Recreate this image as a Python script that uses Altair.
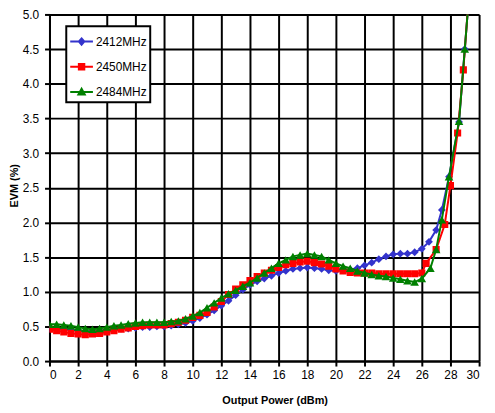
import altair as alt
import pandas as pd

SERIES = ["2412MHz", "2450MHz", "2484MHz"]
COLORS = ["#3333CC", "#FF0000", "#008000"]
SHAPES = ["diamond", "square", "triangle-up"]
SIZES = [62, 52, 76]

BLUE_X = [0, 0.5, 1, 1.5, 2, 2.5, 3, 3.5, 4, 4.5, 5, 5.5, 6, 6.5, 7, 7.5, 8, 8.5, 9, 9.5,
          10, 10.5, 11, 11.5, 12, 12.5, 13, 13.5, 14, 14.5, 15, 15.5, 16, 16.5, 17, 17.5,
          18, 18.5, 19, 19.5, 20, 20.5, 21, 21.5, 22, 22.5, 23, 23.5, 24, 24.5, 25, 25.5,
          26, 26.5, 27, 27.4, 27.9, 28.6, 29.0, 29.5]
BLUE_Y = [0.47, 0.47, 0.46, 0.45, 0.44, 0.43, 0.43, 0.44, 0.45, 0.46, 0.47, 0.47, 0.48, 0.49,
          0.49, 0.50, 0.50, 0.51, 0.53, 0.55, 0.58, 0.62, 0.67, 0.73, 0.80, 0.87, 0.95, 1.03,
          1.10, 1.15, 1.19, 1.23, 1.27, 1.30, 1.33, 1.34, 1.35, 1.34, 1.33, 1.31, 1.30, 1.31,
          1.32, 1.34, 1.38, 1.42, 1.47, 1.51, 1.54, 1.55, 1.55, 1.57, 1.62, 1.72, 1.89, 2.18,
          2.66, 3.45, 4.50, 5.80]

RED_X = [0, 0.5, 1, 1.5, 2, 2.5, 3, 3.5, 4, 4.5, 5, 5.5, 6, 6.5, 7, 7.5, 8, 8.5, 9, 9.5,
         10, 10.5, 11, 11.5, 12, 12.5, 13, 13.5, 14, 14.5, 15, 15.5, 16, 16.5, 17, 17.5,
         18, 18.5, 19, 19.5, 20, 20.5, 21, 21.5, 22, 22.5, 23, 23.5, 24, 24.5, 25, 25.5,
         26, 26.3, 27.0, 27.6, 28.0, 28.5, 28.9, 29.4]
RED_Y = [0.46, 0.44, 0.42, 0.40, 0.39, 0.38, 0.39, 0.40, 0.42, 0.44, 0.46, 0.48, 0.50, 0.51,
         0.52, 0.52, 0.52, 0.54, 0.56, 0.59, 0.63, 0.66, 0.70, 0.78, 0.86, 0.96, 1.04, 1.10,
         1.16, 1.22, 1.27, 1.31, 1.35, 1.39, 1.41, 1.43, 1.44, 1.42, 1.40, 1.37, 1.33, 1.30,
         1.28, 1.27, 1.27, 1.27, 1.26, 1.26, 1.26, 1.26, 1.26, 1.26, 1.27, 1.41, 1.61, 1.97,
         2.53, 3.29, 4.20, 5.60]

GREEN_X = [0, 0.5, 1, 1.5, 2, 2.5, 3, 3.5, 4, 4.5, 5, 5.5, 6, 6.5, 7, 7.5, 8, 8.5, 9, 9.5,
           10, 10.5, 11, 11.5, 12, 12.5, 13, 13.5, 14, 14.5, 15, 15.5, 16, 16.5, 17, 17.5,
           18, 18.5, 19, 19.5, 20, 20.5, 21, 21.5, 22, 22.5, 23, 23.5, 24, 24.5, 25, 25.5,
           26, 26.6, 27.0, 27.4, 27.9, 28.6, 29.0, 29.5]
GREEN_Y = [0.53, 0.53, 0.52, 0.51, 0.49, 0.47, 0.46, 0.47, 0.49, 0.51, 0.52, 0.54, 0.55, 0.56,
           0.56, 0.56, 0.56, 0.57, 0.58, 0.61, 0.65, 0.70, 0.77, 0.84, 0.91, 0.97, 1.02, 1.08,
           1.13, 1.20, 1.27, 1.34, 1.41, 1.46, 1.51, 1.53, 1.55, 1.53, 1.51, 1.46, 1.41, 1.37,
           1.34, 1.30, 1.27, 1.25, 1.23, 1.22, 1.20, 1.18, 1.16, 1.14, 1.19, 1.34, 1.61, 2.04,
           2.66, 3.46, 4.50, 5.80]

X_TICKS = [0, 2, 4, 6, 8, 10, 12, 14, 16, 18, 20, 22, 24, 26, 28, 30]
Y_TICKS = [0.0, 0.5, 1.0, 1.5, 2.0, 2.5, 3.0, 3.5, 4.0, 4.5, 5.0]
X_TITLE = "Output Power (dBm)"
Y_TITLE = "EVM (%)"

# legend symbols: a line through a (stroke-filled) marker, as custom SVG paths
LEGEND_PATHS = [
    "M-1,0H1M0,-0.28L0.24,0L0,0.28L-0.24,0ZM0,-0.12L0.1,0L0,0.12L-0.1,0Z",
    "M-1,0H1M-0.24,-0.24H0.24V0.24H-0.24ZM-0.1,-0.1H0.1V0.1H-0.1Z",
    "M-1,0H1M0,-0.28L0.28,0.22L-0.28,0.22ZM0,-0.08L0.1,0.12L-0.1,0.12Z",
]

W, H = 435, 351
FONT = "Liberation Sans"

rows = []
for name, xs, ys in zip(SERIES, [BLUE_X, RED_X, GREEN_X], [BLUE_Y, RED_Y, GREEN_Y]):
    for a, b in zip(xs, ys):
        rows.append({"s": name, "x": a, "y": b})
df = pd.DataFrame(rows)

xscale = alt.Scale(domain=[0, 30], nice=False, zero=False)
yscale = alt.Scale(domain=[0, 5], nice=False, zero=False)

xaxis = alt.Axis(values=X_TICKS, format="d", title=X_TITLE, grid=True,
                 titleX=228, titleY=40, titleBaseline="middle", titleAlign="center",
                 labelPadding=4)
yaxis = alt.Axis(values=Y_TICKS, format=".1f", title=Y_TITLE, grid=True,
                 titleX=-35, titleY=173, titleBaseline="middle", titleAlign="center",
                 titleAngle=270, labelPadding=6)

X = alt.X("x:Q", scale=xscale, axis=xaxis)
Y = alt.Y("y:Q", scale=yscale, axis=yaxis)
color_scale = alt.Scale(domain=SERIES, range=COLORS)

leg = alt.Legend(title=None, orient="none", legendX=17, legendY=12,
                 strokeColor="black", fillColor="white", padding=3, rowPadding=5.5,
                 labelOffset=2, labelFontSize=12, labelFont=FONT, labelColor="black",
                 symbolSize=529, symbolStrokeWidth=2, symbolOpacity=1)

# invisible layer that only carries the legend (must come first so its legend wins)
legend_layer = alt.Chart(df).mark_point(filled=False, opacity=0, strokeWidth=2).encode(
    x=X, y=Y,
    color=alt.Color("s:N", scale=color_scale, legend=leg),
    shape=alt.Shape("s:N", scale=alt.Scale(domain=SERIES, range=LEGEND_PATHS), legend=leg),
)

layers = [legend_layer]
for name, shp, sz in zip(SERIES, SHAPES, SIZES):
    base = alt.Chart(df).transform_filter(alt.datum.s == name)
    layers.append(base.mark_line(strokeWidth=2, clip=True).encode(
        x=X, y=Y, color=alt.Color("s:N", scale=color_scale, legend=None)))
    layers.append(base.mark_point(filled=True, shape=shp, size=sz, opacity=1, clip=True).encode(
        x=X, y=Y, color=alt.Color("s:N", scale=color_scale, legend=None)))

chart = alt.layer(*layers).properties(
    width=W, height=H,
    autosize=alt.AutoSizeParams(type="none"),
    padding={"left": 42, "top": 4, "right": 8, "bottom": 47},
).configure_view(stroke=None).configure_axis(
    labelFont=FONT, labelFontSize=12, labelColor="black",
    titleFont=FONT, titleFontSize=11, titleFontWeight="bold", titleColor="black",
    domainColor="black", domainWidth=2, tickColor="black", tickWidth=2, tickSize=5,
    gridColor="black", gridWidth=2, gridOpacity=1,
).configure_legend(strokeWidth=2)

chart.save("out.html", embed_options={"renderer": "svg", "actions": False})
